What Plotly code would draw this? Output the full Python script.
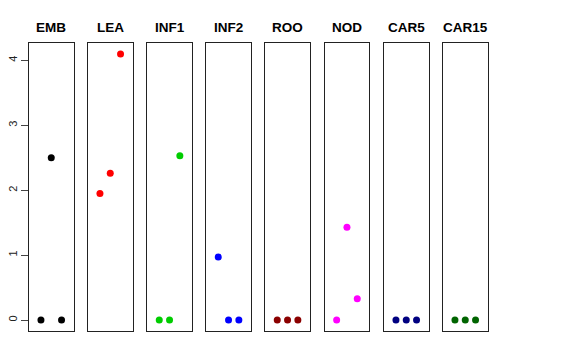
import plotly.graph_objects as go

categories = ["EMB", "LEA", "INF1", "INF2", "ROO", "NOD", "CAR5", "CAR15"]
colors = ["#000000", "#FF0000", "#00CD00", "#0000FF", "#8B0000", "#FF00FF", "#000080", "#006400"]
x_positions = [1, 2, 3]
values = {
    "EMB": [0, 2.50, 0],
    "LEA": [1.95, 2.26, 4.10],
    "INF1": [0, 0, 2.53],
    "INF2": [0.97, 0, 0],
    "ROO": [0, 0, 0],
    "NOD": [0, 1.43, 0.33],
    "CAR5": [0, 0, 0],
    "CAR15": [0, 0, 0],
}
y_ticks = [0, 1, 2, 3, 4]

# page body has an 8px default margin; lay out in page pixels and shift
OFF = 8
W, H = 576 - OFF, 360 - OFF
panel_left = [29, 88, 147.3, 206.3, 265.3, 324.7, 384, 443]
panel_w = 44.5
y_top_px, y_bot_px = 43.3, 330.7
title_y_px = 28

def px_x(p):
    return (p - OFF) / W

def px_y(p):
    return 1 - (p - OFF) / H

fig = go.Figure()
layout = dict(
    width=W, height=H, margin=dict(l=0, r=0, t=0, b=0, autoexpand=False),
    paper_bgcolor="white", plot_bgcolor="white", showlegend=False,
    font=dict(family="Liberation Sans, Arial, sans-serif", color="black"),
)
annotations = []
ydom = [px_y(y_bot_px), px_y(y_top_px)]
ymax = max(max(v) for v in values.values())
pad = 0.04 * ymax
yrange = [-pad, ymax + pad]
for i, cat in enumerate(categories):
    n = i + 1
    xa = "x" if n == 1 else f"x{n}"
    ya = "y" if n == 1 else f"y{n}"
    fig.add_trace(go.Scatter(
        x=x_positions, y=values[cat], mode="markers",
        marker=dict(color=colors[i], size=7, line=dict(width=0)),
        xaxis=xa, yaxis=ya, hoverinfo="skip", cliponaxis=False))
    x0 = px_x(panel_left[i])
    x1 = px_x(panel_left[i] + panel_w)
    layout[f"xaxis{'' if n == 1 else n}"] = dict(
        domain=[x0, x1], range=[-0.16, 4.16], showticklabels=False,
        ticks="", showgrid=False, zeroline=False, automargin=False,
        showline=True, mirror=True, linecolor="#222", linewidth=1,
        anchor=ya, fixedrange=True)
    yax = dict(
        domain=ydom, range=yrange, showgrid=False, zeroline=False, automargin=False,
        showline=True, mirror=True, linecolor="#222", linewidth=1,
        anchor=xa, fixedrange=True)
    if n == 1:
        yax.update(tickvals=y_ticks, ticks="outside", ticklen=7, tickcolor="#444",
                   tickangle=-90, tickfont=dict(size=11, color="#222"))
    else:
        yax.update(showticklabels=False, ticks="")
    layout[f"yaxis{'' if n == 1 else n}"] = yax
    annotations.append(dict(
        text=f"<b>{cat}</b>", x=(x0 + x1) / 2, y=px_y(title_y_px),
        xref="paper", yref="paper", showarrow=False,
        xanchor="center", yanchor="middle", font=dict(size=13.5, color="black")))
layout["annotations"] = annotations
fig.update_layout(**layout)
fig.write_html("out.html")
